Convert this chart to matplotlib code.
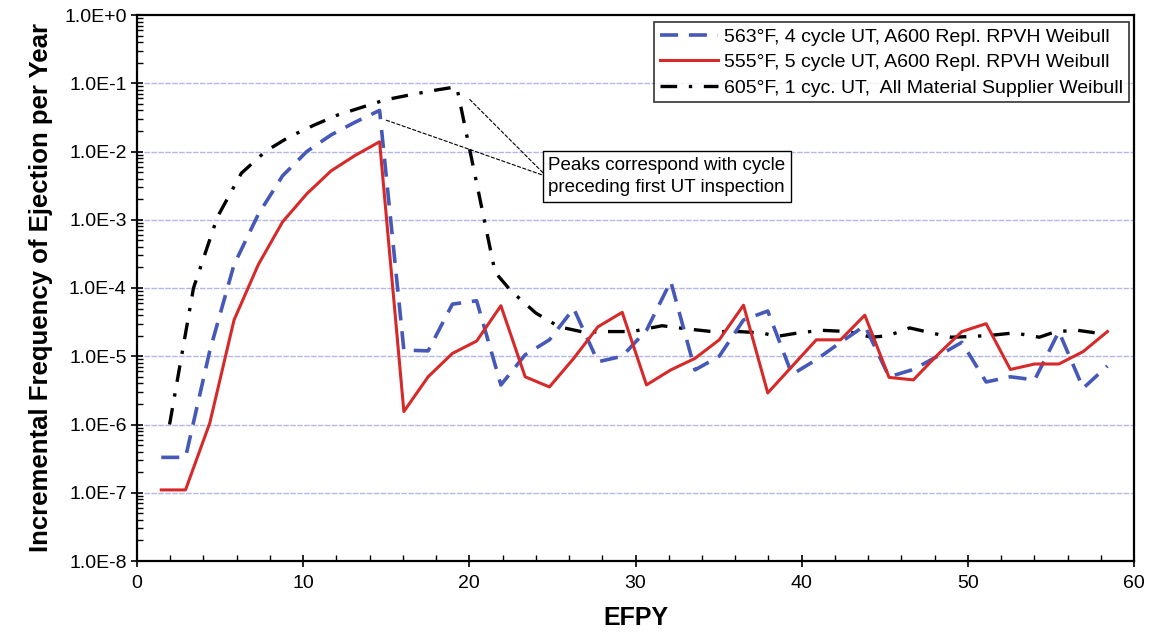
import matplotlib
matplotlib.use("Agg")
import matplotlib.pyplot as plt
from matplotlib.ticker import FixedLocator, FuncFormatter, LogLocator, NullFormatter, MultipleLocator
import numpy as np

plt.rcParams['font.family'] = ['Liberation Sans', 'DejaVu Sans']

# ---- data ----
efpy = [1.46, 2.92, 4.38, 5.84, 7.30, 8.76, 10.22, 11.68, 13.14, 14.60,
        16.06, 17.52, 18.98, 20.44, 21.90, 23.36, 24.82, 26.28, 27.74, 29.20,
        30.66, 32.12, 33.58, 35.04, 36.50, 37.96, 39.42, 40.88, 42.34, 43.80,
        45.26, 46.72, 48.18, 49.64, 51.10, 52.56, 54.02, 55.48, 56.94, 58.40]

blue_563 = [3.3e-7, 3.3e-7, 1.2e-5, 2.2e-4, 1.2e-3, 4.4e-3, 1.0e-2, 1.75e-2, 2.7e-2, 4.0e-2,
            1.23e-5, 1.2e-5, 5.8e-5, 6.5e-5, 3.8e-6, 1.05e-5, 1.74e-5, 5.0e-5, 8.3e-6, 1.0e-5,
            2.4e-5, 1.25e-4, 6.3e-6, 1.0e-5, 3.4e-5, 4.6e-5, 5.4e-6, 8.9e-6, 1.6e-5, 2.8e-5,
            5.0e-6, 6.4e-6, 1.0e-5, 1.6e-5, 4.2e-6, 5.0e-6, 4.5e-6, 2.3e-5, 3.4e-6, 7.2e-6]

red_555 = [1.1e-7, 1.1e-7, 1.05e-6, 3.4e-5, 2.2e-4, 9.3e-4, 2.4e-3, 5.2e-3, 8.8e-3, 1.39e-2,
           1.55e-6, 5.0e-6, 1.1e-5, 1.67e-5, 5.5e-5, 5.0e-6, 3.55e-6, 9.3e-6, 2.7e-5, 4.4e-5,
           3.8e-6, 6.3e-6, 9.3e-6, 1.74e-5, 5.6e-5, 2.9e-6, 7.1e-6, 1.74e-5, 1.74e-5, 4.0e-5,
           4.9e-6, 4.5e-6, 1.05e-5, 2.3e-5, 3.0e-5, 6.4e-6, 7.7e-6, 7.7e-6, 1.17e-5, 2.3e-5]

efpy_605 = [1.96, 3.40, 4.84, 6.28, 7.72, 9.16, 10.60, 12.04, 13.48, 14.92,
            16.36, 17.80, 19.24, 21.55, 22.5, 24.0, 25.4, 26.9, 28.3, 29.8,
            31.6, 33.2, 34.6, 36.2, 37.6, 38.5, 39.8, 41.2, 42.8, 44.2,
            45.2, 46.5, 47.8, 49.0, 50.3, 51.6, 52.8, 54.3, 55.3, 56.6, 57.7, 58.2]
black_605 = [1.0e-6, 1.0e-4, 1.1e-3, 4.8e-3, 1.0e-2, 1.64e-2, 2.4e-2, 3.4e-2, 4.4e-2, 5.7e-2,
             6.7e-2, 7.8e-2, 8.9e-2, 1.7e-4, 9.1e-5, 4.3e-5, 2.7e-5, 2.25e-5, 2.3e-5, 2.3e-5,
             2.8e-5, 2.5e-5, 2.3e-5, 2.3e-5, 2.2e-5, 1.95e-5, 2.2e-5, 2.4e-5, 2.3e-5, 1.9e-5,
             2.0e-5, 2.6e-5, 2.2e-5, 1.9e-5, 1.95e-5, 2.05e-5, 2.2e-5, 1.9e-5, 2.3e-5, 2.4e-5,
             2.2e-5, 2.2e-5]

labels = ["563°F, 4 cycle UT, A600 Repl. RPVH Weibull",
          "555°F, 5 cycle UT, A600 Repl. RPVH Weibull",
          "605°F, 1 cyc. UT,  All Material Supplier Weibull"]

annot_text = "Peaks correspond with cycle\npreceding first UT inspection"
peak_points = [(14.96, 2.9e-2), (19.96, 6.0e-2)]
annot_anchor = (24.66, 4.3e-3)

x_ticks = [0, 10, 20, 30, 40, 50, 60]
y_exps = [0, -1, -2, -3, -4, -5, -6, -7, -8]

# ---- figure ----
fig = plt.figure(figsize=(11.54, 6.40), dpi=100)
ax = fig.add_axes([137/1154, (640-561)/640, (1134-137)/1154, (561-15)/640])
ax.set_yscale('log')
ax.set_xlim(0, 60)
ax.set_ylim(1e-8, 1.0)

ax.yaxis.set_major_locator(FixedLocator([10.0**e for e in y_exps]))
ax.yaxis.set_major_formatter(FuncFormatter(
    lambda v, p: "1.0E+0" if abs(np.log10(v)) < 1e-9 else "1.0E%d" % int(round(np.log10(v)))))
ax.yaxis.set_minor_locator(LogLocator(base=10, subs=np.arange(2, 10), numticks=20))
ax.yaxis.set_minor_formatter(NullFormatter())
ax.xaxis.set_major_locator(FixedLocator(x_ticks))
ax.xaxis.set_minor_locator(MultipleLocator(2))

for e in y_exps[1:-1]:
    ax.axhline(10.0**e, color='#b4b8e6', lw=1.0, ls=(0, (4, 1)), zorder=0)

ax.plot(efpy, blue_563, color='#4658b8', lw=2.6, ls=(0, (5, 3)), label=labels[0], zorder=3)
ax.plot(efpy, red_555, color='#d62a2a', lw=2.2, ls='-', label=labels[1], zorder=4)
ax.plot(efpy_605, black_605, color='black', lw=2.4, ls=(0, (5, 3.5, 1, 3.5)), label=labels[2], zorder=2)

for pt in peak_points:
    ax.annotate('', xy=pt, xytext=annot_anchor,
                arrowprops=dict(arrowstyle='-', color='black', lw=0.8, ls=(0, (3, 2)),
                                shrinkA=0, shrinkB=0), zorder=5)
ax.text(24.75, annot_anchor[1], annot_text, fontsize=13.5, va='center', ha='left',
        linespacing=1.45,
        bbox=dict(boxstyle='square,pad=0.3', fc='white', ec='black', lw=1.0), zorder=6)

leg = ax.legend(loc='upper right', bbox_to_anchor=(0.998, 0.992), fontsize=14, frameon=True,
                fancybox=False, edgecolor='black', handlelength=3.0, handletextpad=0.3,
                borderpad=0.3, labelspacing=0.4, borderaxespad=0.15)
leg.get_frame().set_linewidth(1.2)

for s in ax.spines.values():
    s.set_linewidth(1.6)
ax.tick_params(axis='both', which='major', direction='inout', length=8, width=1.2, labelsize=14)
ax.tick_params(axis='both', which='minor', direction='in', length=4, width=1.0)
ax.tick_params(axis='x', pad=6)

ax.set_xlabel("EFPY", fontsize=18, fontweight='bold', labelpad=10)
ax.set_ylabel("Incremental Frequency of Ejection per Year", fontsize=18.5, fontweight='bold', labelpad=8)

fig.savefig("out.png", dpi=100)
